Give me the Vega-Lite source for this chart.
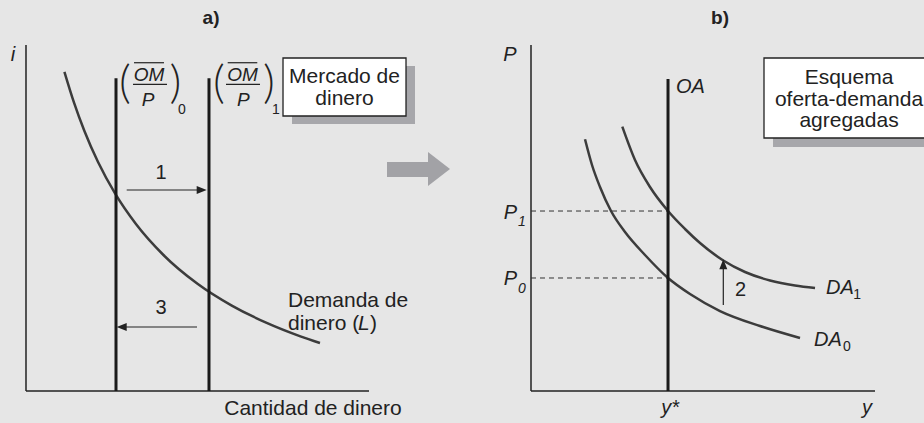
{
  "$schema": "https://vega.github.io/schema/vega-lite/v6.json",
  "background": "#e6e6e6",
  "padding": 0,
  "spacing": 0,
  "bounds": "flush",
  "config": {"view": {"stroke": null}, "font": "Liberation Sans", "text": {"color": "#222222", "font": "Liberation Sans"}},
  "datasets": {
    "cajas_a": [
      {"tipo": "sombra", "x": 7.755, "x2": 11.341, "y": 7.717, "y2": 9.393},
      {"tipo": "caja", "x": 7.493, "x2": 11.079, "y": 7.948, "y2": 9.624}
    ],
    "segmentos_a": [
      {"seg": "eje i", "tipo": "eje", "x": 0, "y": 0, "x2": 0, "y2": 10},
      {"seg": "eje cantidad", "tipo": "eje", "x": 0, "y": 0, "x2": 10, "y2": 0},
      {"seg": "(OM/P)0", "tipo": "oferta", "x": 2.624, "y": 0, "x2": 2.624, "y2": 9.04},
      {"seg": "(OM/P)1", "tipo": "oferta", "x": 5.335, "y": 0, "x2": 5.335, "y2": 9.04},
      {"seg": "flecha 1", "tipo": "flecha", "x": 2.936, "y": 5.809, "x2": 5.1, "y2": 5.809},
      {"seg": "flecha 3", "tipo": "flecha", "x": 4.986, "y": 1.85, "x2": 2.85, "y2": 1.85},
      {"seg": "barra OM 0", "tipo": "barra", "x": 3.149, "y": 9.488, "x2": 4.023, "y2": 9.488},
      {"seg": "fraccion 0", "tipo": "barra", "x": 3.12, "y": 8.864, "x2": 4.111, "y2": 8.864},
      {"seg": "barra OM 1", "tipo": "barra", "x": 5.88, "y": 9.488, "x2": 6.743, "y2": 9.488},
      {"seg": "fraccion 1", "tipo": "barra", "x": 5.831, "y": 8.864, "x2": 6.822, "y2": 8.864}
    ],
    "curva_L": [
      {"x": 1.12, "y": 9.225}, {"x": 1.4, "y": 8.333}, {"x": 1.7, "y": 7.522},
      {"x": 2.1, "y": 6.618}, {"x": 2.6, "y": 5.704}, {"x": 3.2, "y": 4.834},
      {"x": 4.0, "y": 3.938}, {"x": 5.0, "y": 3.1}, {"x": 6.0, "y": 2.469},
      {"x": 7.0, "y": 1.976}, {"x": 8.0, "y": 1.58}, {"x": 8.571, "y": 1.387}
    ],
    "puntas_a": [
      {"dir": "derecha", "x": 5.268, "y": 5.809},
      {"dir": "izquierda", "x": 2.644, "y": 1.85}
    ],
    "flecha_gris_cuerpo": [{"x": 10.525, "x2": 11.72, "y": 6.185, "y2": 6.618}],
    "flecha_gris_punta": [{"x": 11.72, "y": 5.925, "y2": 6.908}, {"x": 12.362, "y": 6.416, "y2": 6.416}],
    "textos_a": [
      {"texto": "a)", "rol": "titulo", "x": 5.394, "y": 10.78},
      {"texto": "i", "rol": "variable", "x": -0.379, "y": 9.711},
      {"texto": "1", "rol": "numero", "x": 3.936, "y": 6.292},
      {"texto": "3", "rol": "numero", "x": 3.936, "y": 2.39},
      {"texto": "Demanda de", "rol": "nota", "x": 7.638, "y": 2.419},
      {"texto": "dinero (", "rol": "nota", "x": 7.638, "y": 1.763},
      {"texto": "L", "rol": "nota-it", "x": 9.679, "y": 1.763},
      {"texto": ")", "rol": "nota", "x": 10.029, "y": 1.763},
      {"texto": "Cantidad de dinero", "rol": "centro", "x": 8.367, "y": -0.694},
      {"texto": "Mercado de", "rol": "centro", "x": 9.286, "y": 8.893},
      {"texto": "dinero", "rol": "centro", "x": 9.286, "y": 8.266},
      {"texto": "(", "rol": "parentesis", "x": 2.886, "y": 8.46},
      {"texto": ")", "rol": "parentesis", "x": 4.359, "y": 8.46},
      {"texto": "(", "rol": "parentesis", "x": 5.627, "y": 8.46},
      {"texto": ")", "rol": "parentesis", "x": 7.085, "y": 8.46},
      {"texto": "OM", "rol": "fraccion", "x": 3.586, "y": 8.968},
      {"texto": "P", "rol": "fraccion", "x": 3.557, "y": 8.237},
      {"texto": "OM", "rol": "fraccion", "x": 6.312, "y": 8.968},
      {"texto": "P", "rol": "fraccion", "x": 6.335, "y": 8.237},
      {"texto": "0", "rol": "subindice", "x": 4.548, "y": 8.121},
      {"texto": "1", "rol": "subindice", "x": 7.289, "y": 8.121}
    ],
    "cajas_b": [
      {"tipo": "sombra", "x": 7.035, "x2": 12, "y": 7.052, "y2": 9.393},
      {"tipo": "caja", "x": 6.773, "x2": 12, "y": 7.312, "y2": 9.624}
    ],
    "segmentos_b": [
      {"seg": "eje P", "tipo": "eje", "x": 0, "y": 0, "x2": 0, "y2": 10},
      {"seg": "eje y", "tipo": "eje", "x": 0, "y": 0, "x2": 10, "y2": 0},
      {"seg": "OA", "tipo": "oferta", "x": 3.983, "y": 0, "x2": 3.983, "y2": 9.017},
      {"seg": "P1", "tipo": "guia", "x": 0, "y": 5.202, "x2": 3.983, "y2": 5.202},
      {"seg": "P0", "tipo": "guia", "x": 0, "y": 3.266, "x2": 3.983, "y2": 3.266},
      {"seg": "flecha 2", "tipo": "flecha", "x": 5.59, "y": 2.486, "x2": 5.59, "y2": 3.6}
    ],
    "curvas_DA": [
      {"curva": "DA0", "x": 1.57, "y": 7.275}, {"curva": "DA0", "x": 1.773, "y": 6.532},
      {"curva": "DA0", "x": 2.006, "y": 5.896}, {"curva": "DA0", "x": 2.326, "y": 5.202},
      {"curva": "DA0", "x": 2.733, "y": 4.595}, {"curva": "DA0", "x": 3.314, "y": 3.931},
      {"curva": "DA0", "x": 3.983, "y": 3.266}, {"curva": "DA0", "x": 4.622, "y": 2.803},
      {"curva": "DA0", "x": 5.494, "y": 2.312}, {"curva": "DA0", "x": 6.657, "y": 1.879},
      {"curva": "DA0", "x": 7.82, "y": 1.532},
      {"curva": "DA1", "x": 2.654, "y": 7.639}, {"curva": "DA1", "x": 3.023, "y": 6.676},
      {"curva": "DA1", "x": 3.459, "y": 5.896}, {"curva": "DA1", "x": 3.983, "y": 5.202},
      {"curva": "DA1", "x": 4.477, "y": 4.682}, {"curva": "DA1", "x": 4.913, "y": 4.277},
      {"curva": "DA1", "x": 5.59, "y": 3.772}, {"curva": "DA1", "x": 6.221, "y": 3.439},
      {"curva": "DA1", "x": 6.948, "y": 3.194}, {"curva": "DA1", "x": 7.674, "y": 3.049},
      {"curva": "DA1", "x": 8.256, "y": 2.977}
    ],
    "puntas_b": [{"dir": "arriba", "x": 5.59, "y": 3.806}],
    "textos_b": [
      {"texto": "b)", "rol": "titulo", "x": 5.494, "y": 10.78},
      {"texto": "P", "rol": "variable", "x": -0.61, "y": 9.711},
      {"texto": "y*", "rol": "variable", "x": 4.041, "y": -0.491},
      {"texto": "y", "rol": "variable", "x": 9.767, "y": -0.491},
      {"texto": "P", "rol": "variable", "x": -0.596, "y": 5.145},
      {"texto": "P", "rol": "variable", "x": -0.596, "y": 3.237},
      {"texto": "OA", "rol": "variable-izq", "x": 4.215, "y": 8.786},
      {"texto": "DA", "rol": "variable-izq", "x": 8.576, "y": 2.977},
      {"texto": "DA", "rol": "variable-izq", "x": 8.227, "y": 1.474},
      {"texto": "1", "rol": "subindice-it", "x": -0.262, "y": 4.884},
      {"texto": "0", "rol": "subindice-it", "x": -0.262, "y": 2.948},
      {"texto": "1", "rol": "subindice", "x": 9.477, "y": 2.775},
      {"texto": "0", "rol": "subindice", "x": 9.186, "y": 1.272},
      {"texto": "2", "rol": "numero-izq", "x": 5.93, "y": 2.919},
      {"texto": "Esquema", "rol": "centro", "x": 9.244, "y": 8.887},
      {"texto": "oferta-demanda", "rol": "centro", "x": 9.244, "y": 8.251},
      {"texto": "agregadas", "rol": "centro", "x": 9.244, "y": 7.616}
    ]
  },
  "hconcat": [
    {
      "width": 460,
      "height": 423,
      "encoding": {
        "x": {"field": "x", "type": "quantitative", "scale": {"domain": [-0.758, 12.653], "nice": false, "zero": false}, "axis": null},
        "y": {"field": "y", "type": "quantitative", "scale": {"domain": [-0.925, 11.301], "nice": false, "zero": false}, "axis": null}
      },
      "layer": [
        {"data": {"name": "cajas_a"}, "transform": [{"filter": "datum.tipo === 'sombra'"}], "mark": {"type": "rect", "color": "#a7a7ab"}, "encoding": {"x2": {"field": "x2"}, "y2": {"field": "y2"}}},
        {"data": {"name": "cajas_a"}, "transform": [{"filter": "datum.tipo === 'caja'"}], "mark": {"type": "rect", "fill": "#ffffff", "stroke": "#222222", "strokeWidth": 1.3}, "encoding": {"x2": {"field": "x2"}, "y2": {"field": "y2"}}},
        {"data": {"name": "flecha_gris_cuerpo"}, "mark": {"type": "rect", "color": "#a2a2a6"}, "encoding": {"x2": {"field": "x2"}, "y2": {"field": "y2"}}},
        {"data": {"name": "flecha_gris_punta"}, "mark": {"type": "area", "color": "#a2a2a6", "opacity": 1}, "encoding": {"y2": {"field": "y2"}}},
        {"data": {"name": "segmentos_a"}, "transform": [{"filter": "datum.tipo === 'eje'"}], "mark": {"type": "rule", "color": "#222222", "strokeWidth": 1.5}, "encoding": {"x2": {"field": "x2"}, "y2": {"field": "y2"}, "detail": {"field": "seg"}}},
        {"data": {"name": "curva_L"}, "mark": {"type": "line", "color": "#3c3c3c", "strokeWidth": 2.5, "interpolate": "monotone"}, "encoding": {}},
        {"data": {"name": "segmentos_a"}, "transform": [{"filter": "datum.tipo === 'oferta'"}], "mark": {"type": "rule", "color": "#1a1a1a", "strokeWidth": 3}, "encoding": {"x2": {"field": "x2"}, "y2": {"field": "y2"}, "detail": {"field": "seg"}}},
        {"data": {"name": "segmentos_a"}, "transform": [{"filter": "datum.tipo === 'flecha' || datum.tipo === 'barra'"}], "mark": {"type": "rule", "color": "#222222", "strokeWidth": 1.2}, "encoding": {"x2": {"field": "x2"}, "y2": {"field": "y2"}, "detail": {"field": "seg"}}},
        {"data": {"name": "puntas_a"}, "transform": [{"filter": "datum.dir === 'derecha'"}], "mark": {"type": "point", "filled": true, "opacity": 1, "color": "#222222", "size": 100, "strokeWidth": 0, "shape": "M0,0L-2,-0.8L-2,0.8Z"}},
        {"data": {"name": "puntas_a"}, "transform": [{"filter": "datum.dir === 'izquierda'"}], "mark": {"type": "point", "filled": true, "opacity": 1, "color": "#222222", "size": 100, "strokeWidth": 0, "shape": "M0,0L2,-0.8L2,0.8Z"}},
        {"data": {"name": "textos_a"}, "transform": [{"filter": "datum.rol === 'titulo'"}], "mark": {"type": "text", "fontSize": 19, "fontWeight": "bold", "align": "center", "baseline": "middle"}, "encoding": {"text": {"field": "texto"}}},
        {"data": {"name": "textos_a"}, "transform": [{"filter": "datum.rol === 'variable'"}], "mark": {"type": "text", "fontSize": 20, "fontStyle": "italic", "align": "center", "baseline": "middle"}, "encoding": {"text": {"field": "texto"}}},
        {"data": {"name": "textos_a"}, "transform": [{"filter": "datum.rol === 'numero'"}], "mark": {"type": "text", "fontSize": 20, "align": "center", "baseline": "middle"}, "encoding": {"text": {"field": "texto"}}},
        {"data": {"name": "textos_a"}, "transform": [{"filter": "datum.rol === 'nota'"}], "mark": {"type": "text", "fontSize": 21, "align": "left", "baseline": "alphabetic"}, "encoding": {"text": {"field": "texto"}}},
        {"data": {"name": "textos_a"}, "transform": [{"filter": "datum.rol === 'nota-it'"}], "mark": {"type": "text", "fontSize": 21, "fontStyle": "italic", "align": "left", "baseline": "alphabetic"}, "encoding": {"text": {"field": "texto"}}},
        {"data": {"name": "textos_a"}, "transform": [{"filter": "datum.rol === 'centro'"}], "mark": {"type": "text", "fontSize": 21, "align": "center", "baseline": "alphabetic"}, "encoding": {"text": {"field": "texto"}}},
        {"data": {"name": "textos_a"}, "transform": [{"filter": "datum.rol === 'parentesis'"}], "mark": {"type": "text", "font": "Lato", "fontSize": 46, "fontWeight": 300, "align": "center", "baseline": "alphabetic"}, "encoding": {"text": {"field": "texto"}}},
        {"data": {"name": "textos_a"}, "transform": [{"filter": "datum.rol === 'fraccion'"}], "mark": {"type": "text", "fontSize": 19, "fontStyle": "italic", "align": "center", "baseline": "alphabetic"}, "encoding": {"text": {"field": "texto"}}},
        {"data": {"name": "textos_a"}, "transform": [{"filter": "datum.rol === 'subindice'"}], "mark": {"type": "text", "fontSize": 14, "align": "center", "baseline": "middle"}, "encoding": {"text": {"field": "texto"}}}
      ]
    },
    {
      "width": 464,
      "height": 423,
      "encoding": {
        "x": {"field": "x", "type": "quantitative", "scale": {"domain": [-2.064, 11.424], "nice": false, "zero": false}, "axis": null},
        "y": {"field": "y", "type": "quantitative", "scale": {"domain": [-0.925, 11.301], "nice": false, "zero": false}, "axis": null}
      },
      "layer": [
        {"data": {"name": "cajas_b"}, "transform": [{"filter": "datum.tipo === 'sombra'"}], "mark": {"type": "rect", "color": "#a7a7ab", "clip": true}, "encoding": {"x2": {"field": "x2"}, "y2": {"field": "y2"}}},
        {"data": {"name": "cajas_b"}, "transform": [{"filter": "datum.tipo === 'caja'"}], "mark": {"type": "rect", "fill": "#ffffff", "stroke": "#222222", "strokeWidth": 1.3, "clip": true}, "encoding": {"x2": {"field": "x2"}, "y2": {"field": "y2"}}},
        {"data": {"name": "segmentos_b"}, "transform": [{"filter": "datum.tipo === 'eje'"}], "mark": {"type": "rule", "color": "#222222", "strokeWidth": 1.5}, "encoding": {"x2": {"field": "x2"}, "y2": {"field": "y2"}, "detail": {"field": "seg"}}},
        {"data": {"name": "segmentos_b"}, "transform": [{"filter": "datum.tipo === 'guia'"}], "mark": {"type": "rule", "color": "#333333", "strokeWidth": 1, "strokeDash": [5, 4]}, "encoding": {"x2": {"field": "x2"}, "y2": {"field": "y2"}, "detail": {"field": "seg"}}},
        {"data": {"name": "curvas_DA"}, "mark": {"type": "line", "color": "#3c3c3c", "strokeWidth": 2.5, "interpolate": "monotone"}, "encoding": {"detail": {"field": "curva"}}},
        {"data": {"name": "segmentos_b"}, "transform": [{"filter": "datum.tipo === 'oferta'"}], "mark": {"type": "rule", "color": "#1a1a1a", "strokeWidth": 3}, "encoding": {"x2": {"field": "x2"}, "y2": {"field": "y2"}, "detail": {"field": "seg"}}},
        {"data": {"name": "segmentos_b"}, "transform": [{"filter": "datum.tipo === 'flecha'"}], "mark": {"type": "rule", "color": "#222222", "strokeWidth": 1.2}, "encoding": {"x2": {"field": "x2"}, "y2": {"field": "y2"}, "detail": {"field": "seg"}}},
        {"data": {"name": "puntas_b"}, "mark": {"type": "point", "filled": true, "opacity": 1, "color": "#222222", "size": 100, "strokeWidth": 0, "shape": "M0,0L-0.8,2L0.8,2Z"}},
        {"data": {"name": "textos_b"}, "transform": [{"filter": "datum.rol === 'titulo'"}], "mark": {"type": "text", "fontSize": 19, "fontWeight": "bold", "align": "center", "baseline": "middle"}, "encoding": {"text": {"field": "texto"}}},
        {"data": {"name": "textos_b"}, "transform": [{"filter": "datum.rol === 'variable'"}], "mark": {"type": "text", "fontSize": 20, "fontStyle": "italic", "align": "center", "baseline": "middle"}, "encoding": {"text": {"field": "texto"}}},
        {"data": {"name": "textos_b"}, "transform": [{"filter": "datum.rol === 'variable-izq'"}], "mark": {"type": "text", "fontSize": 20, "fontStyle": "italic", "align": "left", "baseline": "middle"}, "encoding": {"text": {"field": "texto"}}},
        {"data": {"name": "textos_b"}, "transform": [{"filter": "datum.rol === 'subindice-it'"}], "mark": {"type": "text", "fontSize": 14, "fontStyle": "italic", "align": "center", "baseline": "middle"}, "encoding": {"text": {"field": "texto"}}},
        {"data": {"name": "textos_b"}, "transform": [{"filter": "datum.rol === 'subindice'"}], "mark": {"type": "text", "fontSize": 14, "align": "center", "baseline": "middle"}, "encoding": {"text": {"field": "texto"}}},
        {"data": {"name": "textos_b"}, "transform": [{"filter": "datum.rol === 'numero-izq'"}], "mark": {"type": "text", "fontSize": 20, "align": "left", "baseline": "middle"}, "encoding": {"text": {"field": "texto"}}},
        {"data": {"name": "textos_b"}, "transform": [{"filter": "datum.rol === 'centro'"}], "mark": {"type": "text", "fontSize": 21, "align": "center", "baseline": "alphabetic"}, "encoding": {"text": {"field": "texto"}}}
      ]
    }
  ]
}
